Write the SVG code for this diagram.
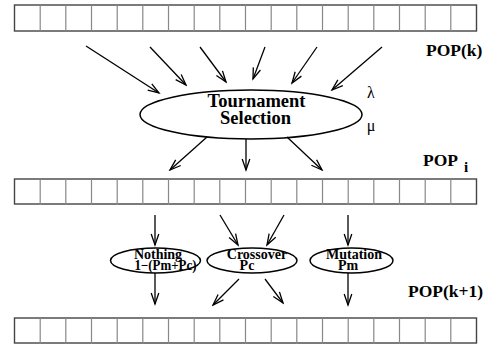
<svg xmlns="http://www.w3.org/2000/svg" width="490" height="347" viewBox="0 0 490 347">
<defs>
<style>
.bar{fill:#fff;stroke:#444;stroke-width:1.4}
.div{stroke:#888;stroke-width:1.2}
.edge{fill:none;stroke:#000;stroke-width:1.3;marker-end:url(#ah)}
.node{fill:#fff;stroke:#000;stroke-width:1.5}
text{font-family:'Liberation Serif','Times New Roman',serif;fill:#000}
.lbl{font-weight:bold}
.big{font-size:17.5px}
.mid{font-size:18.5px;text-anchor:middle}
.sm{font-size:14px;text-anchor:middle}
.greek{font-size:16px;text-anchor:middle}
</style>
<marker id="ah" markerWidth="14" markerHeight="10" refX="0" refY="0" viewBox="-12 -5 14 10" orient="auto" markerUnits="userSpaceOnUse">
<path d="M -11 -3.8 L 0 0 L -11 3.8" fill="none" stroke="#000" stroke-width="1.3"/>
</marker>
<g id="cells">
<line class="div" x1="40.2" y1="0" x2="40.2" y2="26"/>
<line class="div" x1="65.8" y1="0" x2="65.8" y2="26"/>
<line class="div" x1="91.5" y1="0" x2="91.5" y2="26"/>
<line class="div" x1="117.2" y1="0" x2="117.2" y2="26"/>
<line class="div" x1="142.8" y1="0" x2="142.8" y2="26"/>
<line class="div" x1="168.5" y1="0" x2="168.5" y2="26"/>
<line class="div" x1="194.2" y1="0" x2="194.2" y2="26"/>
<line class="div" x1="219.8" y1="0" x2="219.8" y2="26"/>
<line class="div" x1="245.5" y1="0" x2="245.5" y2="26"/>
<line class="div" x1="271.2" y1="0" x2="271.2" y2="26"/>
<line class="div" x1="296.8" y1="0" x2="296.8" y2="26"/>
<line class="div" x1="322.5" y1="0" x2="322.5" y2="26"/>
<line class="div" x1="348.2" y1="0" x2="348.2" y2="26"/>
<line class="div" x1="373.8" y1="0" x2="373.8" y2="26"/>
<line class="div" x1="399.5" y1="0" x2="399.5" y2="26"/>
<line class="div" x1="425.2" y1="0" x2="425.2" y2="26"/>
<line class="div" x1="450.8" y1="0" x2="450.8" y2="26"/>
</g>
</defs>

<g id="pop_k">
<rect class="bar" x="14.5" y="5" width="462" height="26"/>
<use href="#cells" x="0" y="5"/>
<text class="lbl big" x="426" y="56">POP(k)</text>
</g>

<g id="pop_i">
<rect class="bar" x="14.5" y="179" width="462" height="25"/>
<use href="#cells" x="0" y="179"/>
<text class="lbl big" x="423" y="166">POP</text>
<text class="lbl" x="464" y="172" font-size="15">i</text>
</g>

<g id="pop_k1">
<rect class="bar" x="14.5" y="318" width="462" height="25"/>
<use href="#cells" x="0" y="318"/>
<text class="lbl big" x="408" y="297">POP(k+1)</text>
</g>

<g id="tournament">
<ellipse class="node" cx="251" cy="114.5" rx="111" ry="24.5"/>
<text class="lbl mid" x="256.5" y="106.5">Tournament</text>
<text class="lbl mid" x="255.5" y="123.5">Selection</text>
</g>

<g id="nothing">
<ellipse class="node" cx="155.5" cy="260.5" rx="45" ry="12.5"/>
<text class="lbl sm" x="158" y="258.5">Nothing</text>
<text class="lbl sm" x="165.5" y="270" textLength="62" lengthAdjust="spacingAndGlyphs">1−(Pm+Pc)</text>
</g>

<g id="crossover">
<ellipse class="node" cx="252" cy="260.5" rx="45" ry="12.5"/>
<text class="lbl sm" x="257" y="258.5">Crossover</text>
<text class="lbl sm" x="247" y="270">Pc</text>
</g>

<g id="mutation">
<ellipse class="node" cx="351.5" cy="260.5" rx="41.5" ry="12.5"/>
<text class="lbl sm" x="354" y="258.5">Mutation</text>
<text class="lbl sm" x="348" y="270">Pm</text>
</g>

<g id="labels">
<text class="greek" x="371" y="98">λ</text>
<text class="greek" x="371" y="131">μ</text>
</g>

<g id="connectors">
<line class="edge" x1="86" y1="46" x2="159" y2="93"/>
<line class="edge" x1="150" y1="47" x2="186" y2="85"/>
<line class="edge" x1="200" y1="47" x2="226" y2="82"/>
<line class="edge" x1="265" y1="47" x2="253" y2="79"/>
<line class="edge" x1="317" y1="47" x2="292" y2="83"/>
<line class="edge" x1="382" y1="47" x2="332" y2="90"/>
<line class="edge" x1="207" y1="137" x2="170" y2="170"/>
<line class="edge" x1="246" y1="139" x2="246" y2="170"/>
<line class="edge" x1="287" y1="137" x2="322" y2="170"/>
<line class="edge" x1="155" y1="215" x2="155" y2="245"/>
<line class="edge" x1="220" y1="215" x2="238" y2="245"/>
<line class="edge" x1="284" y1="215" x2="267" y2="245"/>
<line class="edge" x1="348" y1="215" x2="348" y2="245"/>
<line class="edge" x1="155" y1="273" x2="155" y2="304"/>
<line class="edge" x1="239" y1="279" x2="213" y2="305"/>
<line class="edge" x1="265" y1="279" x2="283" y2="303"/>
<line class="edge" x1="348" y1="273" x2="348" y2="305"/>
</g>
</svg>
